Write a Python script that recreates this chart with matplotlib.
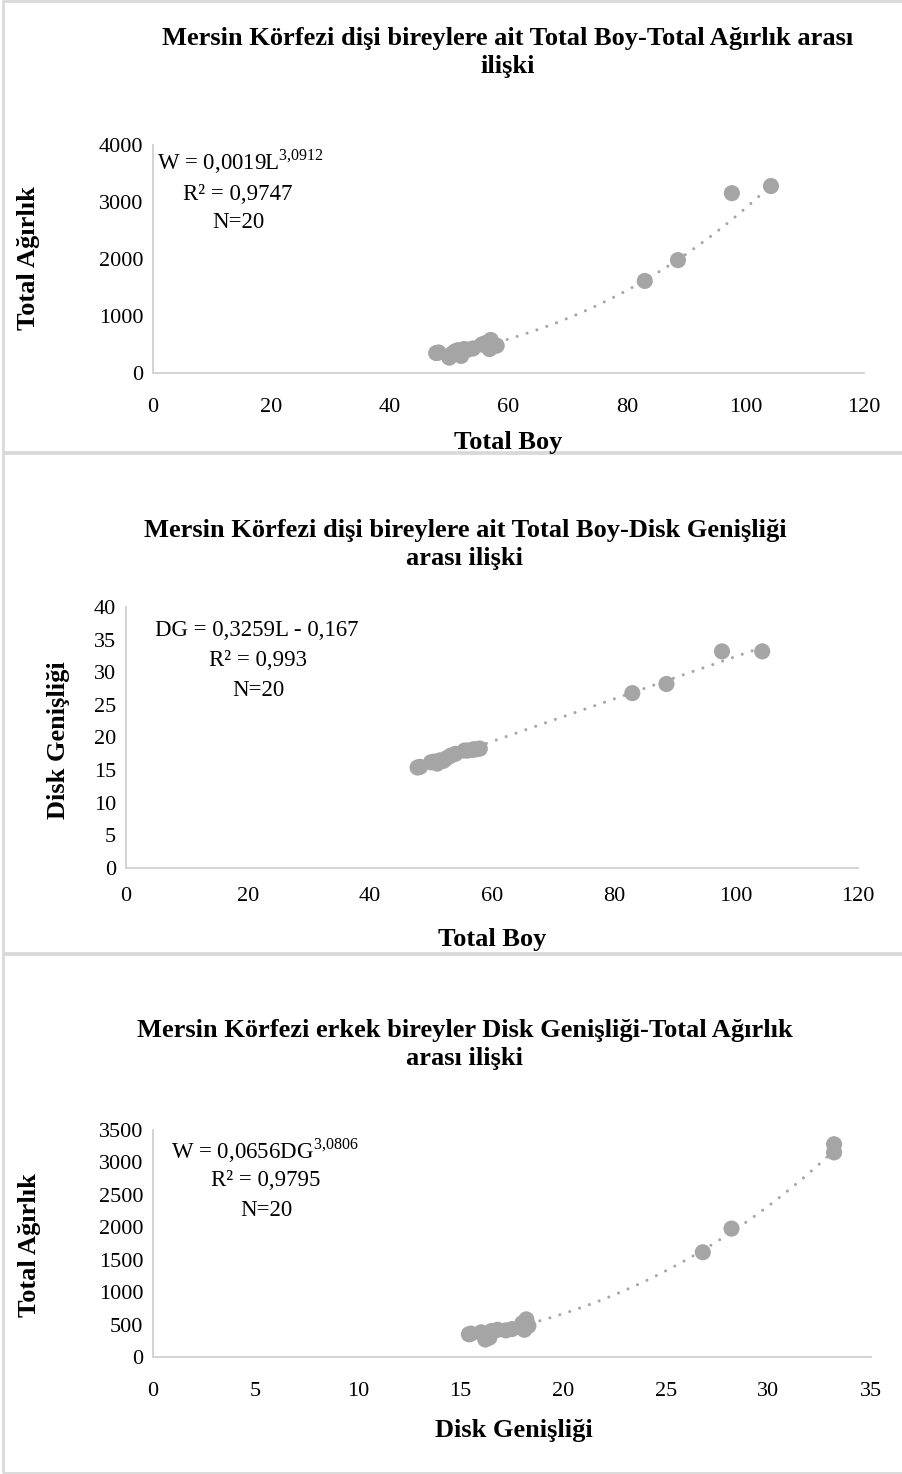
"""
Mersin Körfezi: length-weight and disk width relationships, three stacked Excel-style charts.
"""

import matplotlib.pyplot as plt
import matplotlib.patches as patches
import numpy as np

plt.rcParams["font.family"] = ["Liberation Serif", "DejaVu Serif"]
plt.rcParams["mathtext.fontset"] = "custom"
plt.rcParams["mathtext.rm"] = "Liberation Serif"

# ---- data ----
total_boy = [47.8, 48.2, 50.0, 50.5, 51.0, 51.5, 52.0, 52.5, 53.2, 54.0,
             55.5, 56.0, 56.8, 57.0, 57.5, 58.0, 83.0, 88.6, 97.7, 104.3]
total_agirlik = [350, 360, 270, 340, 380, 400, 300, 420, 410, 430,
                 500, 520, 420, 580, 470, 480, 1615, 1980, 3155, 3280]
disk_genisligi = [15.4, 15.5, 16.2, 16.3, 16.0, 16.5, 16.4, 16.8, 17.2, 17.5,
                  18.0, 18.0, 18.1, 18.2, 18.2, 18.3, 26.8, 28.2, 33.2, 33.2]

# trendline coefficients as printed on the chart
pow1_a, pow1_b = 0.0019, 3.0912
lin2_a, lin2_b = 0.3259, -0.167
pow3_a, pow3_b = 0.0656, 3.0806

W, H = 902, 1474
GRAY = "#a5a5a5"
AXIS = "#d0d0d0"
BORDER = "#d9d9d9"

fig = plt.figure(figsize=(W / 100, H / 100), dpi=100)


def px_axes(left, top, right, bottom):
    return fig.add_axes([left / W, 1 - bottom / H, (right - left) / W, (bottom - top) / H])


def ftext(x, y, s, **kw):
    kw.setdefault("ha", "center")
    kw.setdefault("va", "center")
    return fig.text(x / W, 1 - y / H, s, **kw)


def style(ax, xlim, xticks, ylim, yticks, xpad):
    ax.set_xlim(*xlim)
    ax.set_ylim(*ylim)
    ax.set_xticks(xticks)
    ax.set_yticks(yticks)
    for s in ("top", "right"):
        ax.spines[s].set_visible(False)
    for s in ("left", "bottom"):
        ax.spines[s].set_color(AXIS)
        ax.spines[s].set_linewidth(1.3)
    ax.tick_params(length=0, labelsize=16)
    ax.tick_params(axis="x", pad=xpad)
    ax.tick_params(axis="y", pad=7)
    ax.patch.set_alpha(0)


def trend(ax, x, y):
    ax.plot(x, y, color=GRAY, lw=2.2, linestyle=(0, (0.01, 3.4)),
            dash_capstyle="round", zorder=2)


# panel borders
for y0, y1 in [(1, 452), (453, 953), (954, 1473)]:
    fig.patches.append(patches.Rectangle(
        (3 / W, 1 - y1 / H), 1.0, (y1 - y0) / H, transform=fig.transFigure,
        fill=False, edgecolor=BORDER, lw=2.0))

title_kw = dict(fontsize=19, fontweight="bold")
label_kw = dict(fontsize=19, fontweight="bold")
eq_kw = dict(fontsize=16.5)

# ---- panel 1 ----
ax1 = px_axes(153, 145, 864, 373)
style(ax1, (0, 120), range(0, 121, 20), (0, 4000), range(0, 4001, 1000), 18)
xs = np.linspace(min(total_boy), max(total_boy), 200)
trend(ax1, xs, pow1_a * xs ** pow1_b)
ax1.scatter(total_boy, total_agirlik, s=135, color=GRAY, edgecolors="none", zorder=3)
ftext(508, 38, "Mersin Körfezi dişi bireylere ait Total Boy-Total Ağırlık arası", **title_kw)
ftext(508, 66, "ilişki", **title_kw)
ftext(508, 443, "Total Boy", **label_kw)
ftext(28, 258, "Total Ağırlık", rotation=90, **label_kw)
ftext(240, 162, "W = 0,0019L$^{3{,}0912}$", **eq_kw)
ftext(238, 194, "R² = 0,9747", **eq_kw)
ftext(238, 222, "N=20", **eq_kw)

# ---- panel 2 ----
ax2 = px_axes(126, 607, 858, 868)
style(ax2, (0, 120), range(0, 121, 20), (0, 40), range(0, 41, 5), 14)
trend(ax2, xs, lin2_a * xs + lin2_b)
ax2.scatter(total_boy, disk_genisligi, s=135, color=GRAY, edgecolors="none", zorder=3)
ftext(465, 530, "Mersin Körfezi dişi bireylere ait Total Boy-Disk Genişliği", **title_kw)
ftext(465, 559, "arası ilişki", **title_kw)
ftext(492, 939, "Total Boy", **label_kw)
ftext(58, 740, "Disk Genişliği", rotation=90, **label_kw)
ftext(257, 631, "DG = 0,3259L - 0,167", **eq_kw)
ftext(258, 661, "R² = 0,993", **eq_kw)
ftext(258, 690, "N=20", **eq_kw)

# ---- panel 3 ----
ax3 = px_axes(153, 1130, 871, 1357)
style(ax3, (0, 35), range(0, 36, 5), (0, 3500), range(0, 3501, 500), 18)
ds = np.linspace(min(disk_genisligi), max(disk_genisligi), 200)
trend(ax3, ds, pow3_a * ds ** pow3_b)
ax3.scatter(disk_genisligi, total_agirlik, s=135, color=GRAY, edgecolors="none", zorder=3)
ftext(465, 1030, "Mersin Körfezi erkek bireyler Disk Genişliği-Total Ağırlık", **title_kw)
ftext(465, 1058, "arası ilişki", **title_kw)
ftext(514, 1430, "Disk Genişliği", **label_kw)
ftext(30, 1245, "Total Ağırlık", rotation=90, **label_kw)
ftext(265, 1151, "W = 0,0656DG$^{3{,}0806}$", **eq_kw)
ftext(266, 1181, "R² = 0,9795", **eq_kw)
ftext(266, 1211, "N=20", **eq_kw)

fig.savefig("out.png", dpi=100)
